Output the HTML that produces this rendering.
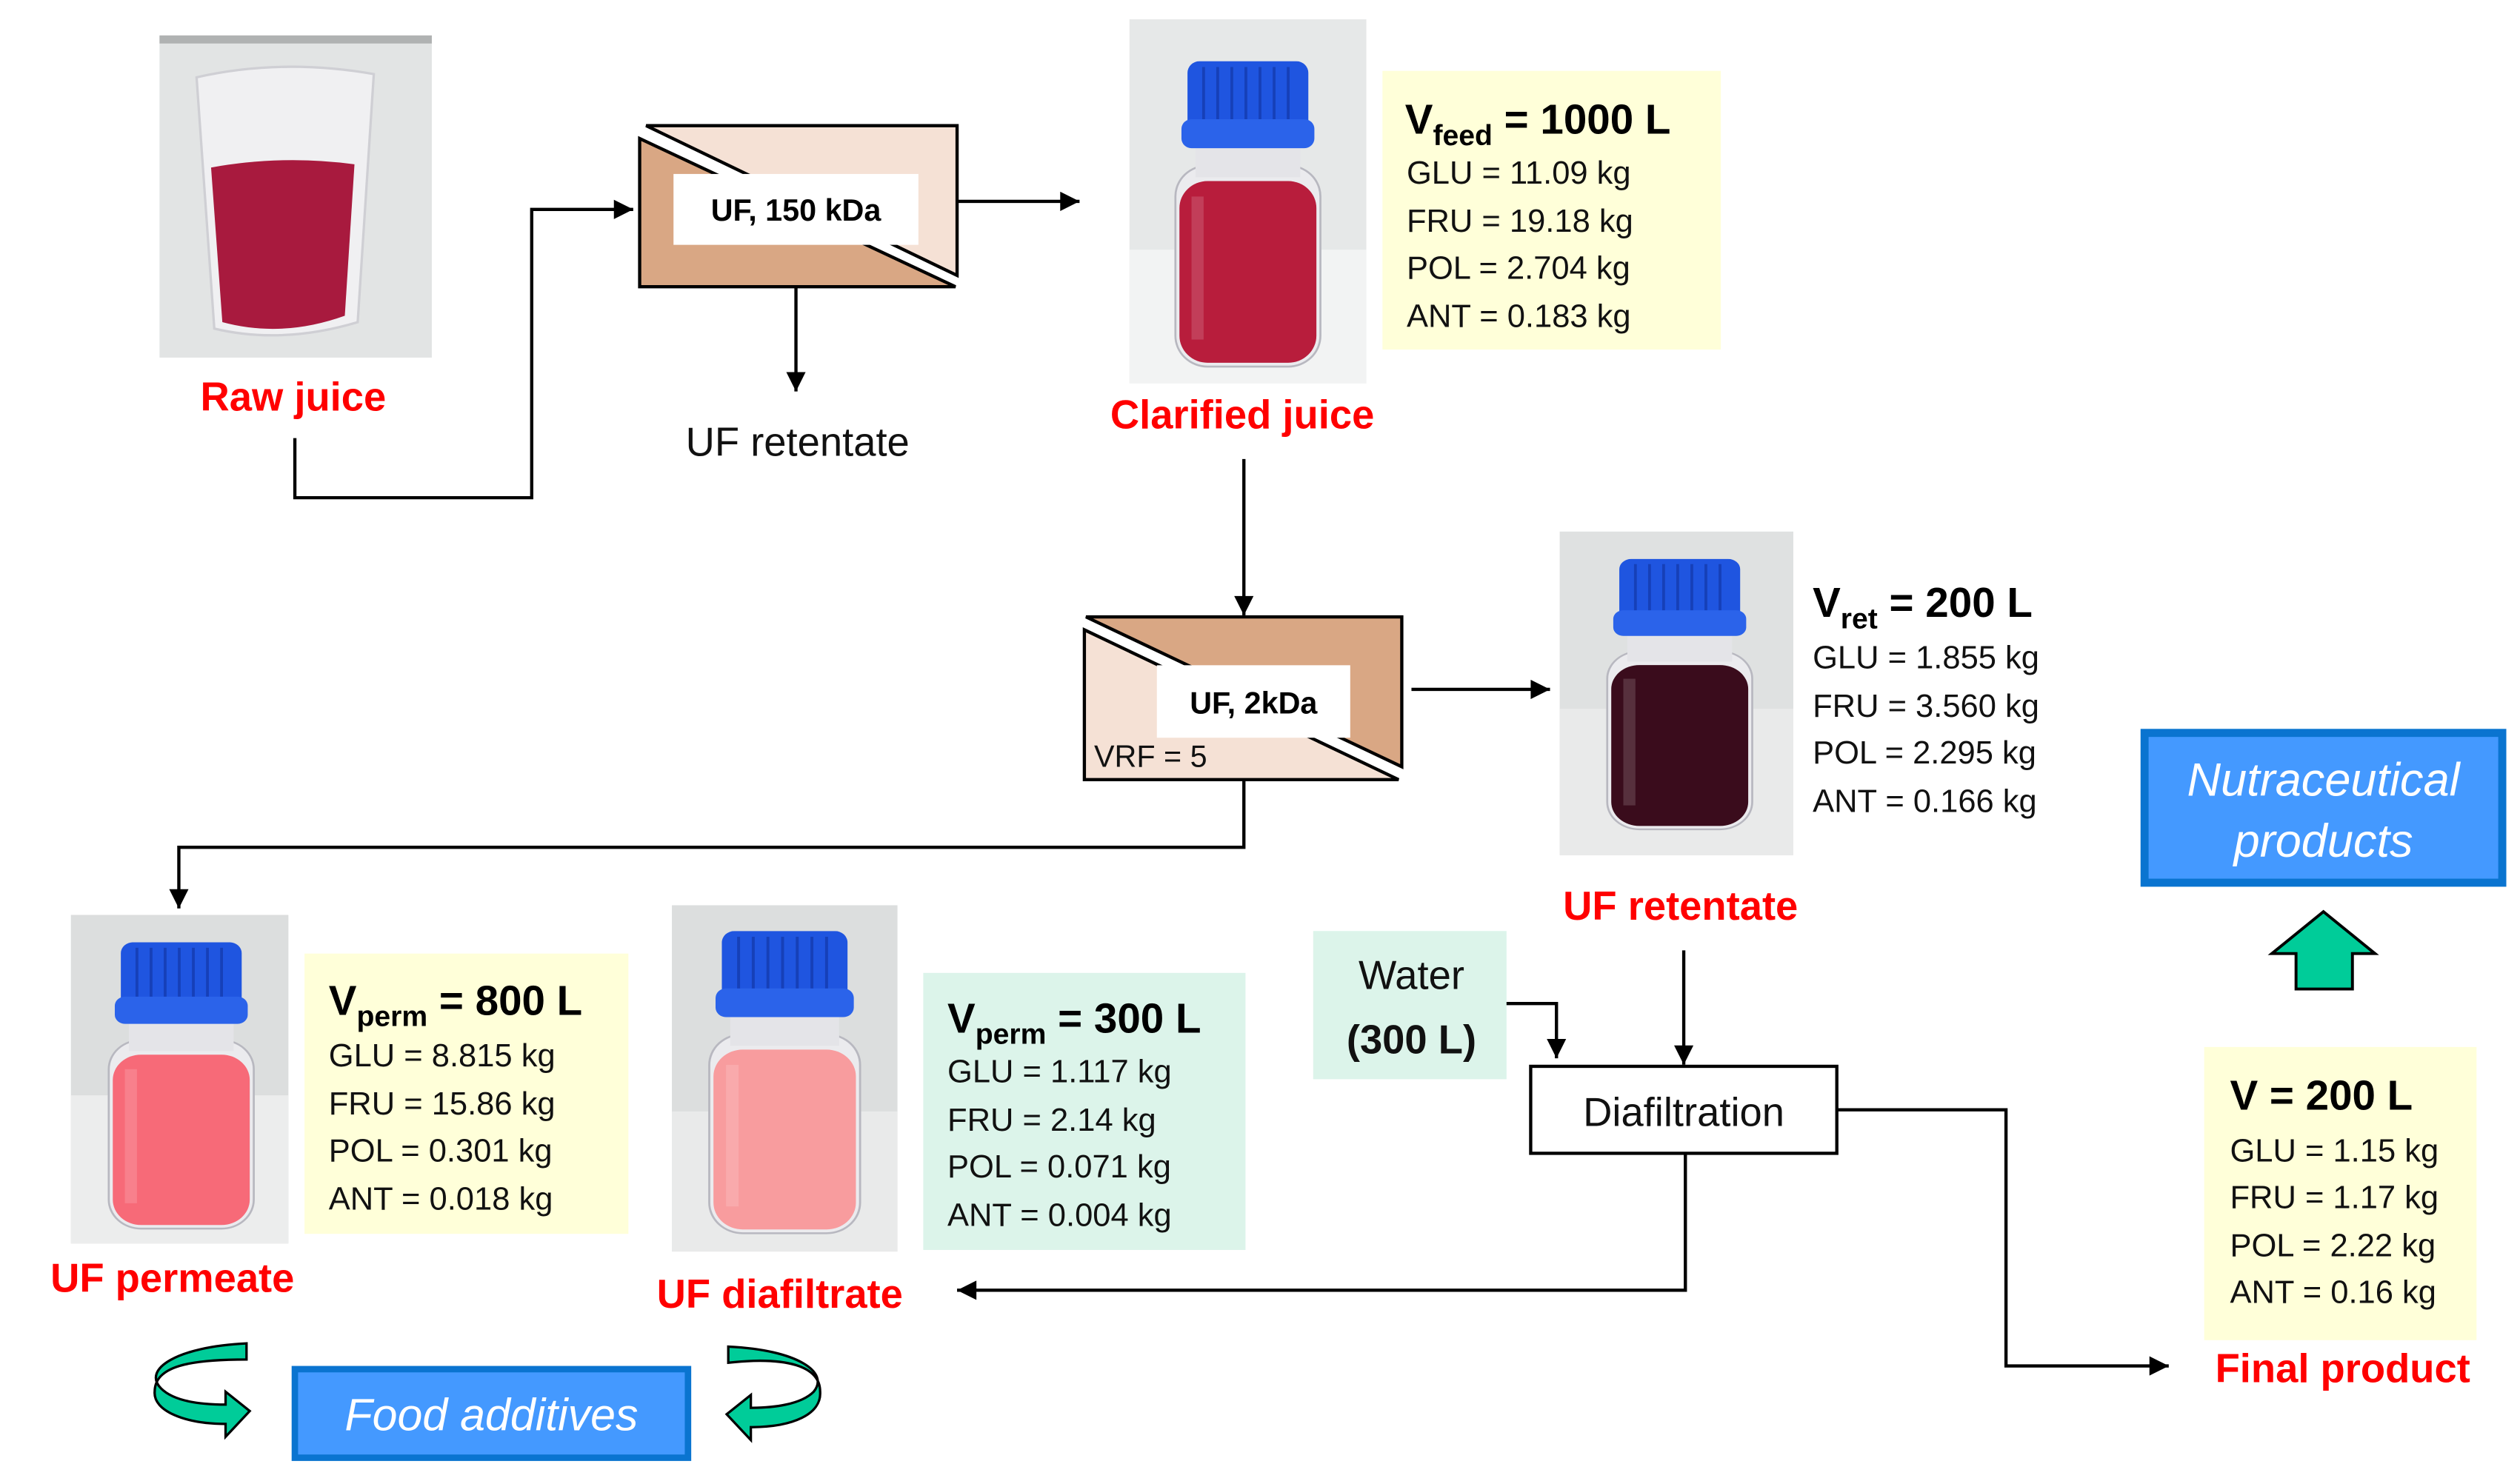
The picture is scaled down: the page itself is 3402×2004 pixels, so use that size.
<!DOCTYPE html>
<html><head><meta charset="utf-8">
<style>
html,body{margin:0;padding:0;background:#fff;}
svg{display:block;}
text{font-family:"Liberation Sans",sans-serif;}
</style></head>
<body>
<svg width="3402" height="2004" viewBox="0 0 1564 921.3" preserveAspectRatio="none" xmlns="http://www.w3.org/2000/svg">
<defs>
<symbol id="bottle" viewBox="0 0 100 160" preserveAspectRatio="none">
  <rect x="14" y="54" width="72" height="104" rx="16" fill="#ebebee" stroke="#b8b8c0" stroke-width="1"/>
  <rect x="16" y="62" width="68" height="94" rx="14" fill="currentColor"/>
  <rect x="22" y="70" width="6" height="74" fill="#fff" opacity="0.15"/>
  <rect x="24" y="44" width="52" height="16" fill="#e4e4e8"/>
  <rect x="20" y="0" width="60" height="40" rx="6" fill="#1f55e0"/>
  <rect x="17" y="30" width="66" height="15" rx="5" fill="#2b63ea"/>
  <g stroke="#1640b8" stroke-width="1.4">
    <line x1="28" y1="3" x2="28" y2="30"/><line x1="35" y1="3" x2="35" y2="30"/>
    <line x1="42" y1="3" x2="42" y2="30"/><line x1="49" y1="3" x2="49" y2="30"/>
    <line x1="56" y1="3" x2="56" y2="30"/><line x1="63" y1="3" x2="63" y2="30"/>
    <line x1="70" y1="3" x2="70" y2="30"/>
  </g>
</symbol>
<marker id="ahs" viewBox="0 0 10 10" refX="10" refY="5" markerWidth="18" markerHeight="12" markerUnits="userSpaceOnUse" orient="auto">
  <path d="M0,0 L10,5 L0,10 Z" fill="#000"/>
</marker>
</defs>

<!-- Raw juice photo -->
<rect x="99" y="22" width="169" height="200" fill="#e2e4e4"/>
<rect x="99" y="22" width="169" height="5" fill="#b0b2b2"/>
<path d="M122,48 Q175,36 232,46 L222,200 Q175,214 133,204 Z" fill="#f0f0f2" stroke="#cfcfd4" stroke-width="1.5"/>
<path d="M131,104 Q175,96 220,102 L214,196 Q175,210 138,200 Z" fill="#a81a3e"/>
<text x="182" y="255" font-size="25" font-weight="bold" fill="#ff0000" text-anchor="middle">Raw juice</text>

<polyline points="183,272 183,309 330,309 330,130 393,130" fill="none" stroke="#000" stroke-width="2" marker-end="url(#ahs)"/>

<!-- UF 150 kDa module -->
<polygon points="401,78 594,78 594,171" fill="#f5e1d5" stroke="#000" stroke-width="2"/>
<polygon points="397,86 397,178 593,178" fill="#d9a784" stroke="#000" stroke-width="2"/>
<rect x="418" y="108" width="152" height="44" fill="#fff"/>
<text x="494" y="137" font-size="19" font-weight="bold" text-anchor="middle" fill="#000">UF, 150 kDa</text>
<line x1="594" y1="125" x2="670" y2="125" stroke="#000" stroke-width="2" marker-end="url(#ahs)"/>
<line x1="494" y1="178" x2="494" y2="243" stroke="#000" stroke-width="2" marker-end="url(#ahs)"/>
<text x="495" y="283" font-size="25" text-anchor="middle" fill="#111">UF retentate</text>

<!-- Clarified juice -->
<rect x="701" y="12" width="147" height="226" fill="#e6e8e8"/>
<rect x="701" y="155" width="147" height="83" fill="#f2f3f3"/>
<use href="#bottle" x="712" y="38" width="125" height="192" style="color:#b81d3c"/>
<text x="771" y="266" font-size="25" font-weight="bold" fill="#ff0000" text-anchor="middle">Clarified juice</text>
<rect x="858" y="44" width="210" height="173" fill="#ffffd9"/>
<text x="872" y="83" font-size="26" font-weight="bold" fill="#000">V<tspan font-size="18" dy="7">feed</tspan><tspan dy="-7"> = 1000 L</tspan></text>
<g font-size="20" fill="#111">
<text x="873" y="114">GLU = 11.09 kg</text>
<text x="873" y="144">FRU = 19.18 kg</text>
<text x="873" y="173">POL = 2.704 kg</text>
<text x="873" y="203">ANT = 0.183 kg</text>
</g>

<line x1="772" y1="285" x2="772" y2="382" stroke="#000" stroke-width="2" marker-end="url(#ahs)"/>

<!-- UF 2kDa module -->
<polygon points="674,383 870,383 870,476" fill="#d9a784" stroke="#000" stroke-width="2"/>
<polygon points="673,391 673,484 868,484" fill="#f5e1d5" stroke="#000" stroke-width="2"/>
<rect x="718" y="413" width="120" height="45" fill="#fff"/>
<text x="778" y="443" font-size="19" font-weight="bold" text-anchor="middle" fill="#000">UF, 2kDa</text>
<text x="679" y="476" font-size="19" fill="#111">VRF = 5</text>
<line x1="876" y1="428" x2="962" y2="428" stroke="#000" stroke-width="2" marker-end="url(#ahs)"/>

<!-- Retentate -->
<rect x="968" y="330" width="145" height="201" fill="#dfe1e1"/>
<rect x="968" y="440" width="145" height="91" fill="#e9eaea"/>
<use href="#bottle" x="980" y="347" width="125" height="170" style="color:#3a0c1c"/>
<text x="1125" y="383" font-size="26" font-weight="bold" fill="#000">V<tspan font-size="18" dy="7">ret</tspan><tspan dy="-7"> = 200 L</tspan></text>
<g font-size="20" fill="#111">
<text x="1125" y="415">GLU = 1.855 kg</text>
<text x="1125" y="445">FRU = 3.560 kg</text>
<text x="1125" y="474">POL = 2.295 kg</text>
<text x="1125" y="504">ANT = 0.166 kg</text>
</g>
<text x="1043" y="571" font-size="25" font-weight="bold" fill="#ff0000" text-anchor="middle">UF retentate</text>

<!-- Nutraceutical -->
<rect x="1331" y="455" width="222" height="93" fill="#4499ff" stroke="#0a74d0" stroke-width="5"/>
<text x="1442" y="494" font-size="29" font-style="italic" fill="#fff" text-anchor="middle">Nutraceutical</text>
<text x="1442" y="532" font-size="29" font-style="italic" fill="#fff" text-anchor="middle">products</text>
<polygon points="1442,566 1474,592 1460,592 1460,614 1425,614 1425,592 1410,592" fill="#00cc99" stroke="#000" stroke-width="1.8"/>

<polyline points="772,484 772,526 111,526 111,564" fill="none" stroke="#000" stroke-width="2" marker-end="url(#ahs)"/>

<!-- Permeate -->
<rect x="44" y="568" width="135" height="204" fill="#dcdede"/>
<rect x="44" y="680" width="135" height="92" fill="#eceded"/>
<use href="#bottle" x="50" y="585" width="125" height="180" style="color:#f76a78"/>
<rect x="189" y="592" width="201" height="174" fill="#ffffd9"/>
<text x="204" y="630" font-size="26" font-weight="bold" fill="#000">V<tspan font-size="18" dy="7">perm</tspan><tspan dy="-7"> = 800 L</tspan></text>
<g font-size="20" fill="#111">
<text x="204" y="662">GLU = 8.815 kg</text>
<text x="204" y="692">FRU = 15.86 kg</text>
<text x="204" y="721">POL = 0.301 kg</text>
<text x="204" y="751">ANT = 0.018 kg</text>
</g>
<text x="107" y="802" font-size="25" font-weight="bold" fill="#ff0000" text-anchor="middle">UF permeate</text>

<!-- Diafiltrate -->
<rect x="417" y="562" width="140" height="215" fill="#dcdede"/>
<rect x="417" y="690" width="140" height="87" fill="#e9eaea"/>
<use href="#bottle" x="422" y="578" width="130" height="190" style="color:#f89c9e"/>
<rect x="573" y="604" width="200" height="172" fill="#dcf4ea"/>
<text x="588" y="641" font-size="26" font-weight="bold" fill="#000">V<tspan font-size="18" dy="7">perm</tspan><tspan dy="-7"> = 300 L</tspan></text>
<g font-size="20" fill="#111">
<text x="588" y="672">GLU = 1.117 kg</text>
<text x="588" y="702">FRU = 2.14 kg</text>
<text x="588" y="731">POL = 0.071 kg</text>
<text x="588" y="761">ANT = 0.004 kg</text>
</g>
<text x="484" y="812" font-size="25" font-weight="bold" fill="#ff0000" text-anchor="middle">UF diafiltrate</text>

<!-- Water -->
<rect x="815" y="578" width="120" height="92" fill="#dcf4ea"/>
<text x="876" y="614" font-size="25" fill="#111" text-anchor="middle">Water</text>
<text x="876" y="654" font-size="25" font-weight="bold" fill="#111" text-anchor="middle">(300 L)</text>
<polyline points="935,623 966,623 966,657" fill="none" stroke="#000" stroke-width="2" marker-end="url(#ahs)"/>
<line x1="1045" y1="590" x2="1045" y2="661" stroke="#000" stroke-width="2" marker-end="url(#ahs)"/>

<!-- Diafiltration -->
<rect x="950" y="662" width="190" height="54" fill="#fff" stroke="#000" stroke-width="2"/>
<text x="1045" y="699" font-size="25" fill="#111" text-anchor="middle">Diafiltration</text>
<polyline points="1140,689 1245,689 1245,848 1346,848" fill="none" stroke="#000" stroke-width="2" marker-end="url(#ahs)"/>
<polyline points="1046,716 1046,801 594,801" fill="none" stroke="#000" stroke-width="2" marker-end="url(#ahs)"/>

<!-- Final product -->
<rect x="1368" y="650" width="169" height="182" fill="#ffffd9"/>
<text x="1384" y="689" font-size="26" font-weight="bold" fill="#000">V = 200 L</text>
<g font-size="20" fill="#111">
<text x="1384" y="721">GLU = 1.15 kg</text>
<text x="1384" y="750">FRU = 1.17 kg</text>
<text x="1384" y="780">POL = 2.22 kg</text>
<text x="1384" y="809">ANT = 0.16 kg</text>
</g>
<text x="1454" y="858" font-size="25" font-weight="bold" fill="#ff0000" text-anchor="middle">Final product</text>

<!-- Food additives -->
<rect x="183" y="850" width="244" height="55" fill="#4499ff" stroke="#0a74d0" stroke-width="4"/>
<text x="305" y="888" font-size="28" font-style="italic" fill="#fff" text-anchor="middle">Food additives</text>
<path d="M153,834 C110,836 88,850 100,862 C108,870 125,872 140,872 L140,864 L155,876 L140,892 L140,884 C115,884 95,876 96,864 C96,848 118,844 153,844 Z" fill="#00cc99" stroke="#000" stroke-width="1.5"/>
<path d="M452,836 C495,838 515,852 505,864 C497,872 480,874 466,874 L466,866 L451,878 L466,894 L466,886 C492,886 510,878 509,864 C509,848 488,842 452,846 Z" fill="#00cc99" stroke="#000" stroke-width="1.5"/>
</svg>
</body></html>
